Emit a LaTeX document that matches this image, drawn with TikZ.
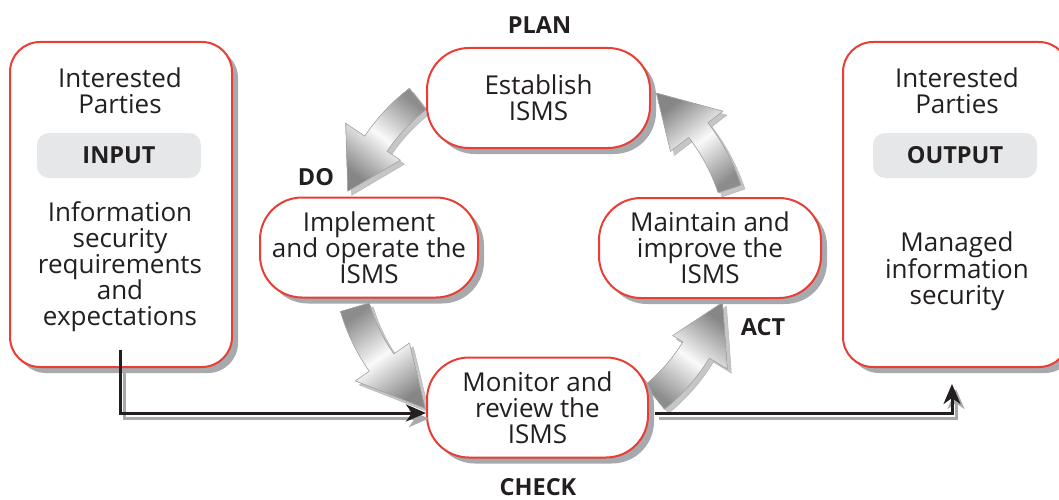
\documentclass[tikz,border=0pt]{standalone}
\usepackage{fontspec}
\setmainfont{Open Sans}
\usetikzlibrary{shadows,arrows.meta,calc}
\definecolor{redc}{RGB}{232,62,54}
\definecolor{shc}{RGB}{167,169,172}
\definecolor{labc}{RGB}{230,231,232}
\definecolor{ink}{RGB}{35,31,32}
\newcommand\bodyfont{\fontsize{26}{26}\selectfont}
\newcommand\labfont{\fontsize{23.5}{26}\selectfont\bfseries}
% tail angle, neck angle, tip angle, r_in, r_out, wing_in, wing_out, r_tip
\newcommand\cycpath[8]{(#1:#5pt) arc[start angle=#1, end angle=#2, radius=#5pt] -- (#2:#7pt) -- (#3:#8pt) -- (#2:#6pt) -- (#2:#4pt) arc[start angle=#2, end angle=#1, radius=#4pt] -- cycle}
\tikzset{
  boxsh/.style={drop shadow={shadow xshift=6pt, shadow yshift=-6pt, fill=shc, opacity=1}},
  bigbox/.style={draw=redc, line width=2pt, fill=white, rounded corners=30pt, minimum height=325pt, inner sep=0pt, boxsh},
  cycbox/.style={draw=redc, line width=2pt, fill=white, rounded corners=42pt, minimum height=100pt, inner sep=0pt, align=center, font=\bodyfont, text=ink, boxsh},
  labbox/.style={fill=labc, rounded corners=12pt, minimum width=164pt, minimum height=45pt, inner sep=0pt, font=\labfont, text=ink},
  bodytext/.style={align=center, font=\bodyfont, text=ink, inner sep=0pt},
  phase/.style={font=\labfont, text=ink, inner sep=0pt},
  conn/.style={draw=ink, line width=3pt, -{Stealth[length=20pt,width=17pt,inset=6pt]}},
  connsh/.style={draw=shc, line width=3pt, -{Stealth[length=20pt,width=17pt,inset=6pt]}},
  arrback/.style={fill=gray!45, draw=gray!55, line width=0.6pt},
  arrfront/.style={top color=gray!95, bottom color=gray!90, middle color=white!96!gray, draw=gray!65, line width=0.6pt}
}
\begin{document}
\begin{tikzpicture}[x=1pt,y=-1pt]
\useasboundingbox (0,0) rectangle (1059,500);
\clip (0,0) rectangle (1059,500);
% cycle arrows
\coordinate (cyc) at (538,253);
\begin{scope}[shift={(cyc)}]
  \fill[arrback, xshift=4pt, yshift=-4pt] \cycpath{128}{146}{162}{182}{209}{166}{232}{200};
  \fill[arrfront, shading angle=142] \cycpath{128}{146}{162}{182}{209}{166}{232}{200};
  \fill[arrback, xshift=4pt, yshift=-4pt] \cycpath{196.5}{215}{234}{176}{206}{157}{223}{192};
  \fill[arrfront, shading angle=215] \cycpath{196.5}{215}{234}{176}{206}{157}{223}{192};
  \fill[arrback, xshift=4pt, yshift=-4pt] \cycpath{309}{328.5}{345}{170}{201}{158}{222}{191};
  \fill[arrfront, shading angle=-36] \cycpath{309}{328.5}{345}{170}{201}{158}{222}{191};
  \fill[arrback, xshift=4pt, yshift=-4pt] \cycpath{18.5}{37.5}{53.5}{190}{214}{167}{233}{199};
  \fill[arrfront, shading angle=37.6] \cycpath{18.5}{37.5}{53.5}{190}{214}{167}{233}{199};
\end{scope}
% outer boxes
\node[bigbox, minimum width=222pt] (inbox) at (121,204.5) {};
\node[bigbox, minimum width=226pt] (outbox) at (956,204.5) {};
\node[bodytext] (inparties) at (120,91) {Interested\\Parties};
\node[labbox] (input) at (119,155.5) {INPUT};
\node[bodytext] (intext) at (120,267) {Information\\security\\requirements\\and\\expectations};
\node[bodytext] (outparties) at (957,91) {Interested\\Parties};
\node[labbox] (output) at (955,155.5) {OUTPUT};
\node[bodytext] (outtext) at (957,271) {Managed\\information\\security};
% cycle boxes
\node[cycbox, minimum width=223pt] (est) at (538.5,98) {Establish\\ISMS};
\node[cycbox, minimum width=218pt] (imp) at (369,247.5) {Implement\\and operate the\\ISMS};
\node[cycbox, minimum width=222pt] (mai) at (710,248) {Maintain and\\improve the\\ISMS};
\node[cycbox, minimum width=221pt] (mon) at (537.5,407.5) {Monitor and\\review the\\ISMS};
% phase labels
\node[phase] (plan) at (539.5,25) {PLAN};
\node[phase] (do) at (316,177) {DO};
\node[phase] (act) at (763,327) {ACT};
\node[phase] (check) at (538,487) {CHECK};
% connectors
\coordinate (inS) at (120,350);
\coordinate (inSh) at (124,373);
\coordinate (outE) at ([xshift=-4pt,yshift=-16pt]outbox.south);
\draw[connsh] (inSh) |- ([xshift=3pt,yshift=-11pt]mon.west);
\draw[conn] (inS) |- ([yshift=-5.5pt]mon.west);
\draw[connsh] ([xshift=10pt,yshift=-11pt]mon.east) -| ([xshift=4pt,yshift=-5pt]outE);
\draw[conn] ([xshift=6pt,yshift=-5.5pt]mon.east) -| (outE);
\end{tikzpicture}
\end{document}
